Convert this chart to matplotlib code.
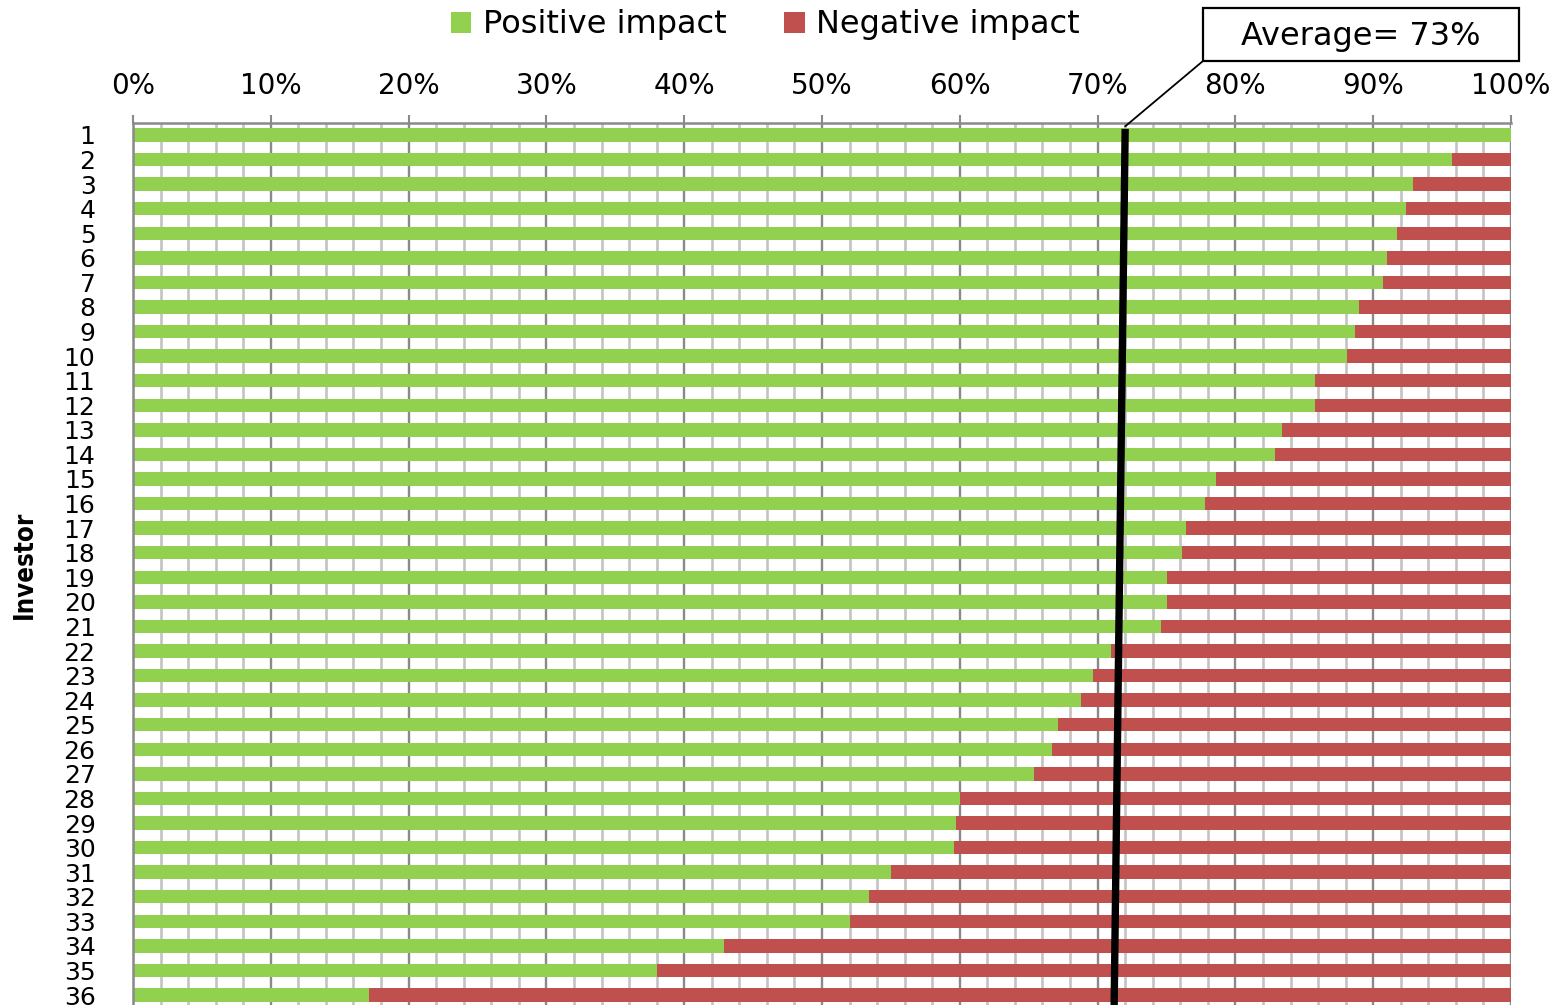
import matplotlib
matplotlib.use("Agg")
import matplotlib.pyplot as plt
from matplotlib import font_manager as fm
from matplotlib.patches import Rectangle, Patch
from matplotlib.ticker import MultipleLocator, FuncFormatter

# ---------------- data ----------------
investors = [str(i) for i in range(1, 37)]
positive = [100.0, 95.7, 92.9, 92.4, 91.7, 91.0, 90.7, 89.0, 88.7, 88.1,
            85.8, 85.8, 83.4, 82.9, 78.6, 77.8, 76.4, 76.1, 75.0, 75.0,
            74.6, 71.0, 69.7, 68.8, 67.1, 66.7, 65.4, 60.0, 59.7, 59.6,
            55.0, 53.4, 52.0, 42.9, 38.0, 17.1]
negative = [100.0 - p for p in positive]
series_names = ["Positive impact", "Negative impact"]
avg_label = "Average= 73%"
avg_line_x = [72.0, 71.2]       # drawn average marker (top, bottom), in %
avg_line_y = [0.75, 36.45]      # row positions of its ends
y_label = "Investor"

GREEN = "#92D050"
RED = "#C0504D"

W, H = 1568, 1005
fig = plt.figure(figsize=(W / 100, H / 100), dpi=100)
plt.rcParams['font.family'] = ['DejaVu Sans']

# pick a condensed bold face for the axis title if one is installed
cond_file = None
for f in fm.fontManager.ttflist:
    st = str(f.stretch).lower()
    if 'condensed' in st or 'narrow' in f.name.lower():
        w = f.weight
        if (isinstance(w, int) and w >= 700) or str(w).lower() == 'bold':
            cond_file = f.fname
            break

left_px, right_px = 133, 1511
top_px, bottom_px = 122.7, 1007.3
ax = fig.add_axes([left_px / W, 1 - bottom_px / H,
                   (right_px - left_px) / W, (bottom_px - top_px) / H])

ypos = list(range(1, len(investors) + 1))
bar_h = 0.55
ax.barh(ypos, positive, height=bar_h, color=GREEN, zorder=2, label=series_names[0])
ax.barh(ypos, negative, left=positive, height=bar_h, color=RED, zorder=2, label=series_names[1])

ax.set_xlim(0, 100)
ax.set_ylim(len(investors) + 0.5, 0.5)

# grid
ax.xaxis.set_major_locator(MultipleLocator(10))
ax.xaxis.set_minor_locator(MultipleLocator(2))
ax.grid(axis='x', which='minor', color='#c3c3c3', lw=1.9, zorder=0)
ax.grid(axis='x', which='major', color='#8a8a8a', lw=1.7, zorder=0)
ax.set_axisbelow(True)

ax.xaxis.tick_top()
ax.xaxis.set_major_formatter(FuncFormatter(lambda v, p: f"{int(round(v))}%"))
ax.tick_params(axis='x', which='major', direction='out', length=6, width=1.5,
               color='#8a8a8a', labelsize=20, pad=10)
ax.tick_params(axis='x', which='minor', length=0)

ax.set_yticks(ypos)
ax.set_yticklabels(investors)
ax.tick_params(axis='y', length=0, labelsize=18, pad=27)

for s in ['right', 'bottom']:
    ax.spines[s].set_visible(False)
for s in ['top', 'left']:
    ax.spines[s].set_color('#8a8a8a')
    ax.spines[s].set_linewidth(1.8)

# y label
if cond_file is not None:
    fig.text(25 / W, 1 - 565 / H, y_label, rotation=90, ha='center', va='center',
             fontproperties=fm.FontProperties(fname=cond_file, size=18.5))
else:
    fig.text(24 / W, 1 - 565 / H, y_label, rotation=90, ha='center', va='center',
             fontsize=16, fontweight='bold', family=['Liberation Sans', 'DejaVu Sans'])

# average line
ax.plot(avg_line_x, avg_line_y, color='black', lw=5.3, solid_capstyle='butt',
        zorder=5, clip_on=False)

# callout box
bx0, bx1, by0, by1 = 1203, 1519, 8, 61
fig.patches.append(Rectangle((bx0 / W, 1 - by1 / H), (bx1 - bx0) / W, (by1 - by0) / H,
                             transform=fig.transFigure, fill=True, facecolor='white',
                             edgecolor='black', lw=1.6))
fig.text((bx0 + bx1) / 2 / W, 1 - 37 / H, avg_label, ha='center', va='center', fontsize=23)
ax.annotate('', xy=(avg_line_x[0], avg_line_y[0] - 0.1), xycoords='data',
            xytext=(bx0, H - by1), textcoords='figure pixels',
            arrowprops=dict(arrowstyle='-', lw=1.3, color='black',
                            shrinkA=0, shrinkB=0), annotation_clip=False)

# legend
handles = [Patch(facecolor=GREEN, edgecolor='none'), Patch(facecolor=RED, edgecolor='none')]
fig.legend(handles, series_names, ncol=2, loc='center',
           bbox_to_anchor=(765 / W, 1 - 25 / H), frameon=False, fontsize=23,
           handlelength=0.65, handleheight=0.65, handletextpad=0.35,
           columnspacing=1.8, borderaxespad=0)

fig.savefig("out.png", dpi=100)
